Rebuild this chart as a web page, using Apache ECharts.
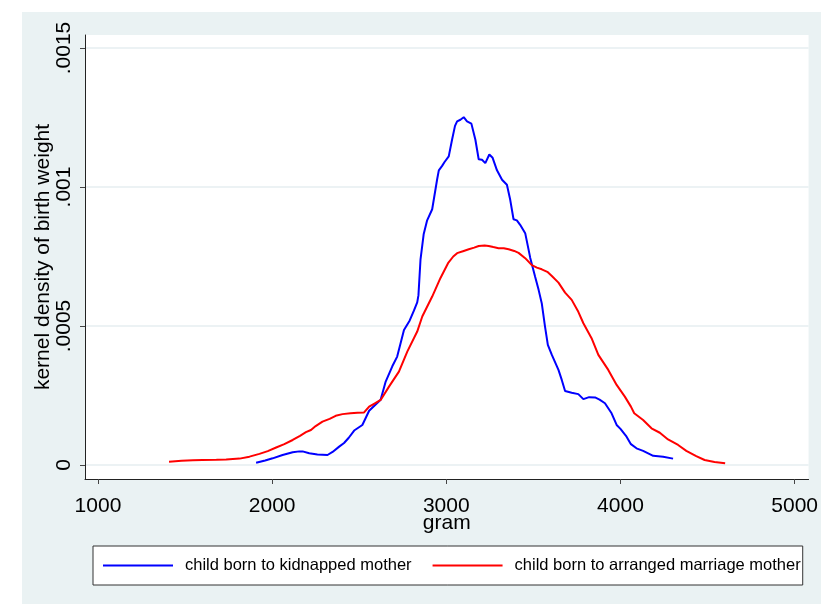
<!DOCTYPE html>
<html>
<head>
<meta charset="utf-8">
<script src="https://cdn.jsdelivr.net/npm/echarts@6/dist/echarts.min.js"></script>
<style>
  html, body { margin:0; padding:0; background:#ffffff; }
  #bg { position:absolute; left:22px; top:12px; width:799px; height:592px; background:#eaf2f3; }
  #chart { position:absolute; left:0; top:0; width:821px; height:604px; }
</style>
</head>
<body>
<div id="bg"></div>
<div id="chart"></div>
<script>
// ---- data ----
const seriesNames = ['child born to kidnapped mother', 'child born to arranged marriage mother'];

const kidnappedX = [1908,1960,2003,2060,2118,2156,2175,2213,2260,2318,2347,2385,2413,2440,2471,2518,2557,2590,2623,2652,2690,2718,2757,2790,2814,2833,2840,2852,2870,2890,2919,2947,2957,2976,2990,3014,3033,3050,3062,3081,3090,3100,3119,3144,3167,3186,3205,3224,3247,3266,3291,3320,3348,3367,3386,3405,3424,3453,3482,3510,3530,3548,3567,3583,3606,3644,3663,3682,3720,3758,3787,3820,3854,3880,3911,3949,3978,4000,4035,4060,4092,4130,4188,4245,4302];
const kidnappedY = [0.08e-4,0.16e-4,0.24e-4,0.36e-4,0.46e-4,0.49e-4,0.49e-4,0.42e-4,0.38e-4,0.36e-4,0.47e-4,0.66e-4,0.79e-4,0.98e-4,1.24e-4,1.44e-4,1.95e-4,2.15e-4,2.35e-4,3.0e-4,3.55e-4,3.9e-4,4.86e-4,5.2e-4,5.55e-4,5.85e-4,6.1e-4,7.4e-4,8.3e-4,8.8e-4,9.2e-4,10.26e-4,10.6e-4,10.76e-4,10.9e-4,11.1e-4,11.7e-4,12.2e-4,12.36e-4,12.42e-4,12.38e-4,12.51e-4,12.36e-4,12.28e-4,11.7e-4,11.0e-4,10.98e-4,10.86e-4,11.17e-4,11.05e-4,10.6e-4,10.26e-4,10.08e-4,9.54e-4,8.84e-4,8.8e-4,8.64e-4,8.34e-4,7.45e-4,6.77e-4,6.3e-4,5.82e-4,4.97e-4,4.32e-4,3.96e-4,3.42e-4,3.06e-4,2.66e-4,2.6e-4,2.55e-4,2.37e-4,2.44e-4,2.43e-4,2.35e-4,2.22e-4,1.86e-4,1.44e-4,1.30e-4,1.02e-4,0.75e-4,0.60e-4,0.51e-4,0.33e-4,0.30e-4,0.23e-4];

const arrangedX = [1408,1480,1545,1600,1680,1736,1813,1870,1927,1975,2023,2070,2118,2160,2194,2223,2250,2289,2330,2365,2404,2450,2490,2528,2557,2590,2623,2671,2728,2776,2833,2862,2919,2966,3010,3040,3062,3100,3129,3160,3186,3220,3243,3270,3300,3330,3358,3390,3415,3453,3491,3520,3548,3580,3606,3644,3682,3720,3758,3787,3834,3873,3930,3978,4025,4060,4079,4130,4178,4226,4273,4331,4378,4435,4483,4540,4601];
const arrangedY = [0.12e-4,0.15e-4,0.17e-4,0.18e-4,0.19e-4,0.20e-4,0.23e-4,0.30e-4,0.40e-4,0.50e-4,0.63e-4,0.75e-4,0.90e-4,1.05e-4,1.18e-4,1.26e-4,1.40e-4,1.56e-4,1.66e-4,1.77e-4,1.83e-4,1.86e-4,1.88e-4,1.89e-4,2.10e-4,2.22e-4,2.34e-4,2.82e-4,3.36e-4,4.08e-4,4.80e-4,5.34e-4,6.06e-4,6.72e-4,7.26e-4,7.50e-4,7.62e-4,7.70e-4,7.76e-4,7.82e-4,7.88e-4,7.90e-4,7.88e-4,7.84e-4,7.80e-4,7.80e-4,7.76e-4,7.70e-4,7.63e-4,7.44e-4,7.19e-4,7.10e-4,7.04e-4,6.95e-4,6.80e-4,6.56e-4,6.20e-4,5.94e-4,5.51e-4,5.10e-4,4.56e-4,3.96e-4,3.42e-4,2.88e-4,2.46e-4,2.10e-4,1.86e-4,1.62e-4,1.32e-4,1.16e-4,0.92e-4,0.72e-4,0.51e-4,0.32e-4,0.18e-4,0.11e-4,0.06e-4];

const xTicks = [1000, 2000, 3000, 4000, 5000];
const yTicks = [0, 0.0005, 0.001, 0.0015];
const yTickLabels = ['0', '.0005', '.001', '.0015'];
const xTitle = 'gram';
const yTitle = 'kernel density of birth weight';

// ---- chart ----
const kidnappedData = kidnappedX.map((x, i) => [x, kidnappedY[i]]);
const arrangedData = arrangedX.map((x, i) => [x, arrangedY[i]]);

const FONT = '"Liberation Sans", Arial, Helvetica, sans-serif';
const chart = echarts.init(document.getElementById('chart'), null, { renderer: 'canvas' });

chart.setOption({
  animation: false,
  backgroundColor: 'transparent',
  textStyle: { fontFamily: FONT },
  grid: {
    left: 85, right: 10, top: 35, bottom: 125,
    show: true, backgroundColor: '#ffffff', borderWidth: 0
  },
  xAxis: {
    type: 'value',
    min: 925.6, max: 5080,
    name: xTitle,
    nameLocation: 'middle',
    nameGap: 34,
    nameMoveOverlap: false,
    nameTextStyle: { fontSize: 21, color: '#000', fontFamily: FONT },
    axisLine: { show: true, onZero: false, lineStyle: { color: '#222', width: 1 } },
    axisTick: { show: true, length: 5, customValues: xTicks, lineStyle: { color: '#444', width: 1 } },
    axisLabel: { customValues: xTicks, margin: 17, fontSize: 21, color: '#000', fontFamily: FONT,
      formatter: v => String(v) },
    splitLine: { show: false }
  },
  yAxis: {
    type: 'value',
    min: -5.036e-5, max: 1.5468e-3,
    name: yTitle,
    nameLocation: 'middle',
    nameGap: 31,
    nameMoveOverlap: false,
    nameTextStyle: { fontSize: 21, color: '#000', fontFamily: FONT },
    axisLine: { show: true, onZero: false, lineStyle: { color: '#222', width: 1 } },
    axisTick: { show: true, length: 5, customValues: yTicks, lineStyle: { color: '#444', width: 1 } },
    axisLabel: { customValues: yTicks, rotate: 90, margin: 10, fontSize: 21, color: '#000', fontFamily: FONT,
      formatter: v => {
        let best = 0;
        yTicks.forEach((t, i) => { if (Math.abs(t - v) < Math.abs(yTicks[best] - v)) best = i; });
        return yTickLabels[best];
      } },
    splitLine: { show: true, lineStyle: { color: '#e6eef0', width: 1.5 } }
  },
  legend: {
    show: true,
    left: 93, top: 546,
    orient: 'horizontal',
    padding: [11, 2, 11, 10],
    itemGap: 21,
    itemWidth: 70, itemHeight: 2,
    icon: 'rect',
    backgroundColor: '#ffffff',
    borderColor: '#333',
    borderWidth: 1,
    borderRadius: 0,
    textStyle: { fontSize: 16.5, color: '#000', fontFamily: FONT, padding: [0, 0, 0, 7] },
    data: seriesNames
  },
  series: [
    {
      name: seriesNames[0], type: 'line', data: kidnappedData,
      symbol: 'none', showSymbol: false, smooth: false,
      color: '#0000ff',
      lineStyle: { color: '#0000ff', width: 2 }
    },
    {
      name: seriesNames[1], type: 'line', data: arrangedData,
      symbol: 'none', showSymbol: false, smooth: false,
      color: '#ff0000',
      lineStyle: { color: '#ff0000', width: 2 }
    }
  ]
});
</script>
</body>
</html>
